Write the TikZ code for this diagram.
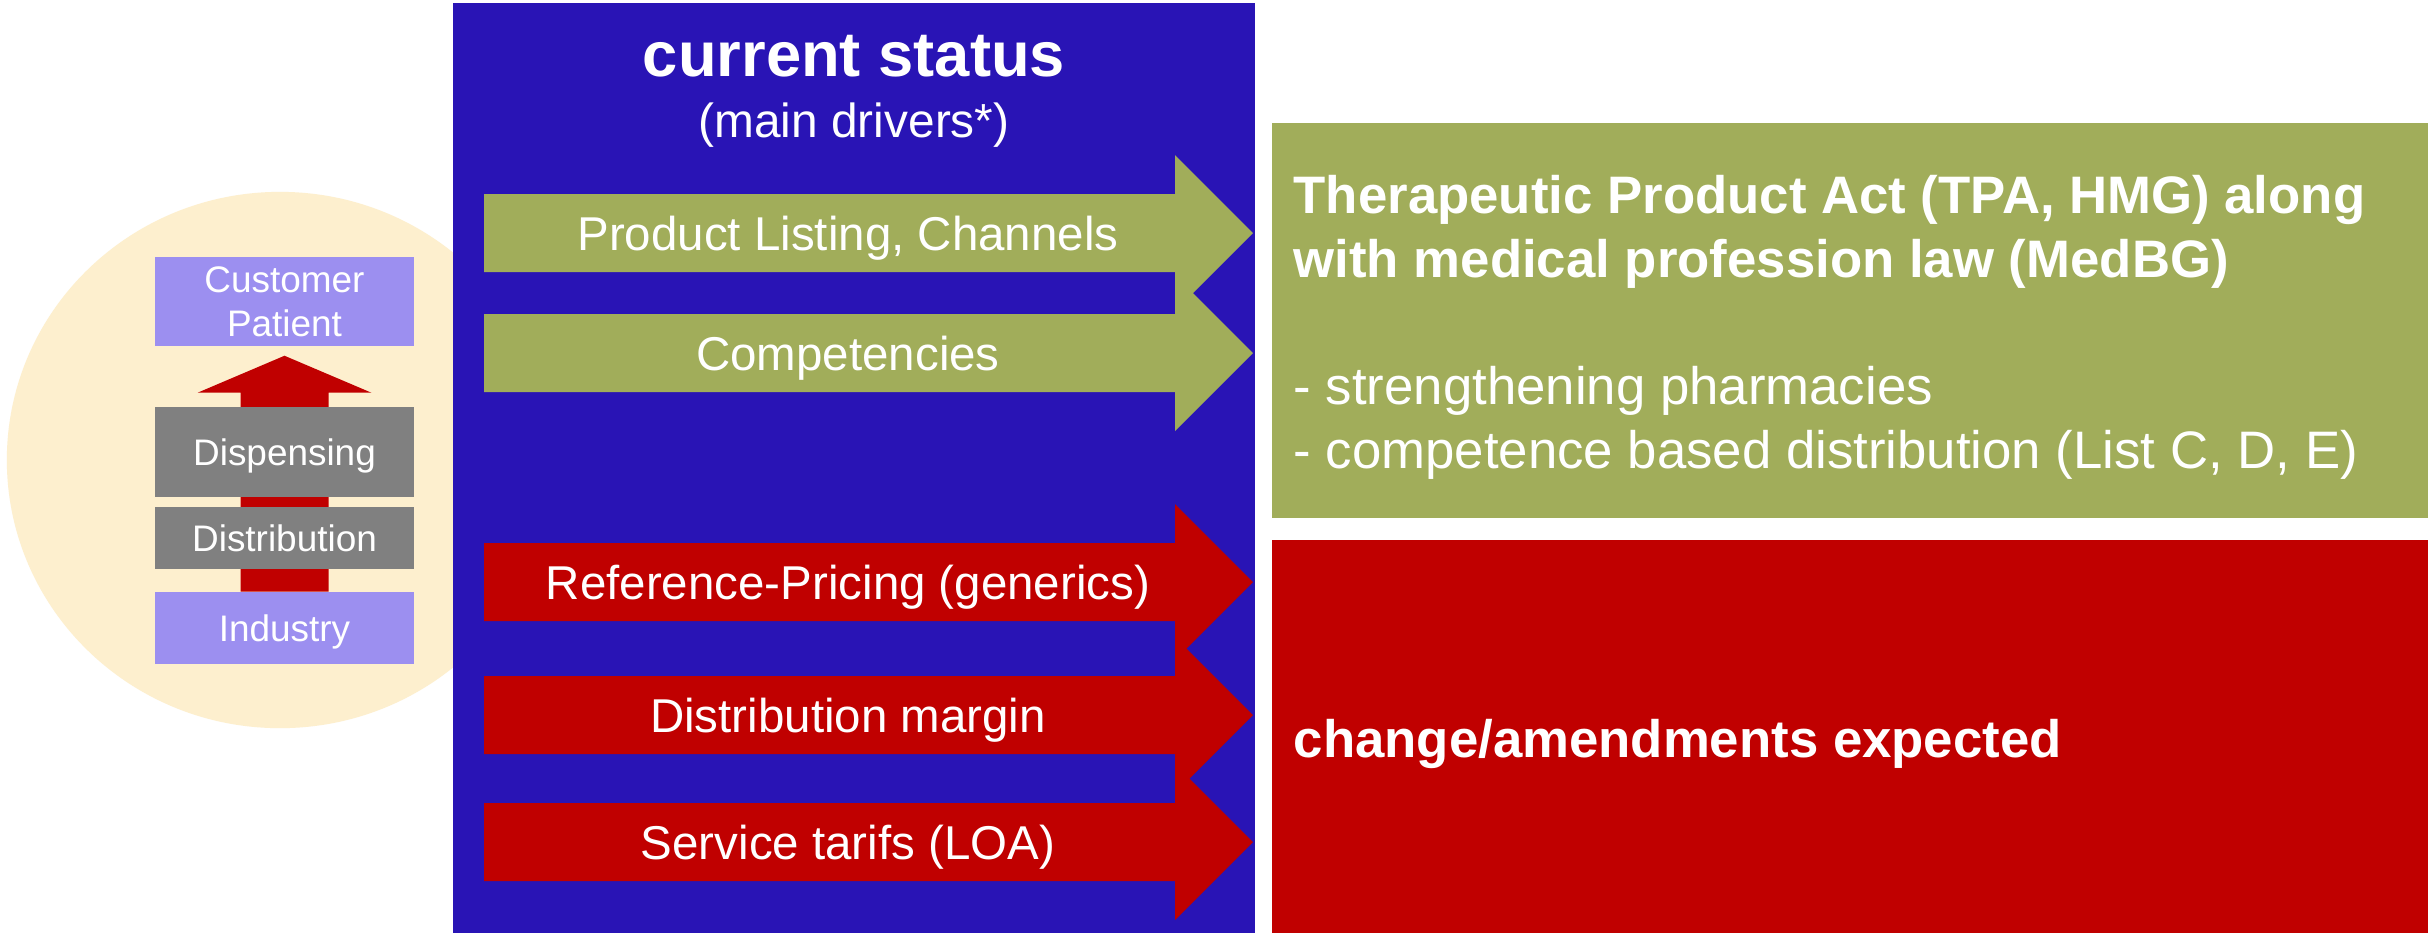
\documentclass[tikz,border=0pt]{standalone}
\usepackage{fontspec}
\setmainfont{Liberation Sans}
\usetikzlibrary{calc,positioning,backgrounds}

\definecolor{panelblue}{RGB}{41,20,181}
\definecolor{drivergreen}{RGB}{161,173,90}
\definecolor{driverred}{RGB}{192,0,0}
\definecolor{lilac}{RGB}{156,143,240}
\definecolor{stagegray}{RGB}{128,128,128}
\definecolor{cream}{RGB}{253,239,206}

\begin{document}
\begin{tikzpicture}[
                x=0.01cm, y=-0.01cm,
                every node/.append style={inner sep=0pt},
                stage/.style={minimum width=2.59cm, text=white, align=center,
                    font=\fontsize{10.5}{12.5}\selectfont},
                party/.style={stage, fill=lilac},
                link/.style={stage, fill=stagegray, text height=0.265cm, text depth=0pt},
                driverlabel/.style={text=white, font=\fontsize{13.5}{16}\selectfont,
                    text height=0.34cm, text depth=0pt},
                lawtext/.style={anchor=base west, text=white, font=\fontsize{15}{18}\selectfont}
            ]
                \useasboundingbox (0,0) rectangle (2430,935);

                % supply chain
                \node (cust)  [party, minimum height=0.89cm] at (284.5,301.5) {Customer\\Patient};
                \node (disp)  [link, minimum height=0.89cm, below=0.6cm of cust] {Dispensing};
                \node (distr) [link, minimum height=0.62cm, below=0.09cm of disp] {Distribution};
                \node (ind)   [party, minimum height=0.72cm, text height=0.265cm, text depth=0pt,
                               below=0.22cm of distr] {Industry};

                \begin{scope}[on background layer]
                    \fill[white] (0,0) rectangle (2430,935);
                    \fill[cream] (280,460) ellipse [x radius=2.73cm, y radius=2.68cm];
                    \fill[driverred] ($(ind.north)+(-44,0)$) -- ($(cust.south)+(-44,46)$)
                        -- ($(cust.south)+(-87,46)$) -- ($(cust.south)+(0,9)$)
                        -- ($(cust.south)+(87,46)$) -- ($(cust.south)+(44,46)$)
                        -- ($(ind.north)+(44,0)$) -- cycle;
                \end{scope}

                % current status
                \node (status) [fill=panelblue, minimum width=8.02cm, minimum height=9.30cm] at (854,468) {};
                \node (title) [anchor=base, text=white, font=\fontsize{18}{21}\selectfont\bfseries]
                    at (854,76) {current status};
                \node (drivers) [anchor=base, text=white, font=\fontsize{13.6}{16}\selectfont]
                    at (854,137) {(main drivers*)};

                \foreach \y/\col/\txt/\nm in {233/drivergreen/{Product Listing, Channels}/listing,
                        353/drivergreen/Competencies/comp,
                        582/driverred/{Reference-Pricing (generics)}/refprice,
                        715/driverred/{Distribution margin}/margin,
                        842/driverred/{Service tarifs (LOA)}/tarifs}{
                    \fill[\col] (484,\y-39) -- (1175,\y-39) -- (1175,\y-78) -- (1253,\y)
                        -- (1175,\y+78) -- (1175,\y+39) -- (484,\y+39) -- cycle;
                    \node[driverlabel] (\nm) at (848,\y) {\txt};
                }

                % legal outlook
                \node (tpa)   [fill=drivergreen, minimum width=11.56cm, minimum height=3.95cm] at (1850,320.5) {};
                \node (amend) [fill=driverred, minimum width=11.56cm, minimum height=3.93cm] at (1850,736.5) {};
                \node (tpa1) [lawtext] at (1293,213) {\textbf{Therapeutic Product Act (TPA, HMG) along}};
                \node (tpa2) [lawtext] at (1293,277) {\textbf{with medical profession law (MedBG)}};
                \node (tpa3) [lawtext] at (1293,404) {- strengthening pharmacies};
                \node (tpa4) [lawtext] at (1293,468) {- competence based distribution (List C, D, E)};
                \node (change) [lawtext] at (1293,757) {\textbf{change/amendments expected}};
            \end{tikzpicture}
\end{document}
